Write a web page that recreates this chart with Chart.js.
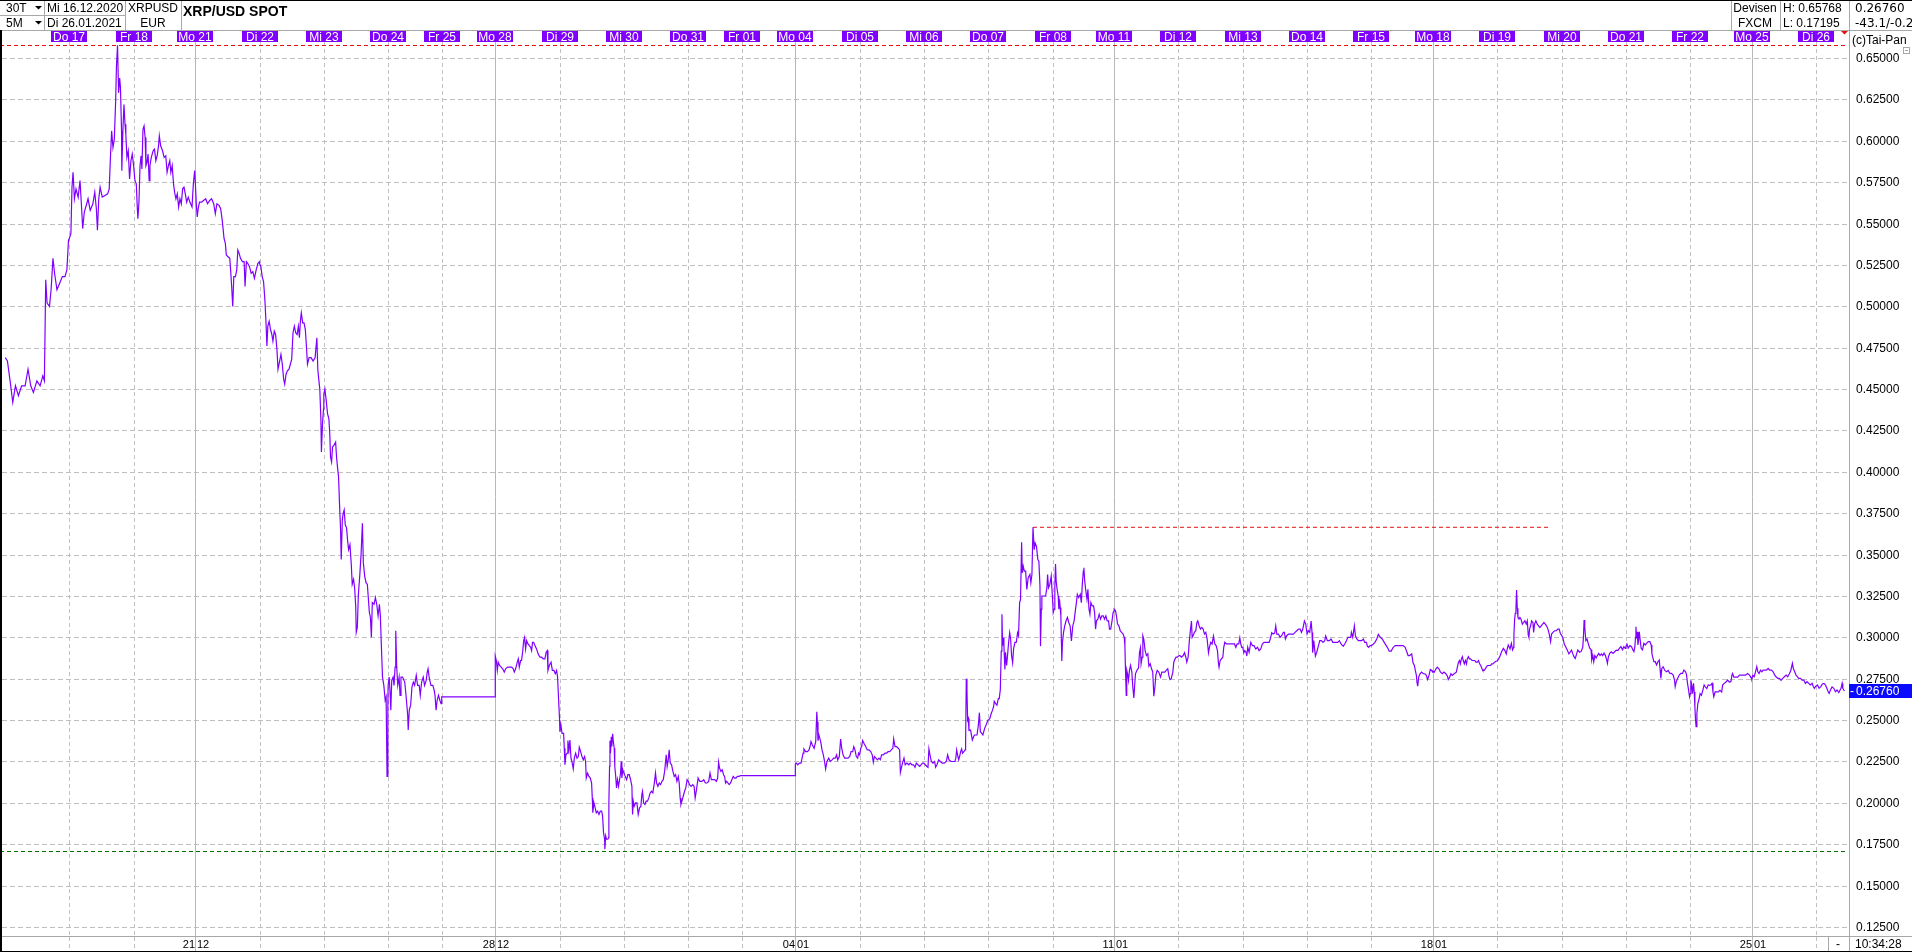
<!DOCTYPE html>
<html><head><meta charset="utf-8">
<script src="https://cdn.jsdelivr.net/npm/chart.js@4.4.1/dist/chart.umd.min.js"></script>
<style>html,body{margin:0;padding:0;background:#fff;overflow:hidden}canvas{display:block}</style>
</head><body><canvas id="c" width="1912" height="952"></canvas>
<script>
// ---- sessions (trading days) ----
const weekdays = ['Mi','Do','Fr','Mo','Di','Mi','Do','Fr','Mo','Di','Mi','Do','Fr','Mo','Di','Mi','Do','Fr','Mo','Di','Mi','Do','Fr','Mo','Di','Mi','Do','Fr','Mo','Di'];
const dates = ['16.12','17.12','18.12','21.12','22.12','23.12','24.12','25.12','28.12','29.12','30.12','31.12','01.01','04.01','05.01','06.01','07.01','08.01','11.01','12.01','13.01','14.01','15.01','18.01','19.01','20.01','21.01','22.01','25.01','26.01'];
const sessionHours = [24,24,23,24,24,24,20,20,24,24,24,20,20,24,24,24,24,23,24,24,24,24,23,24,24,24,24,23,24,12];

// ---- XRP/USD prices: [hour of session, price] ----
const p1216 = [[0.1,0.469],[0.9,0.467],[1.9,0.455],[2.9,0.442],[3.9,0.452],[5.0,0.446],[6.2,0.452],[7.5,0.452],[8.6,0.462],[9.6,0.452],[10.6,0.448],[11.9,0.455],[13.1,0.452],[14.1,0.458],[14.7,0.455],[15.2,0.516],[15.7,0.502],[16.6,0.500],[17.2,0.510],[17.9,0.529],[18.5,0.520],[19.4,0.510],[20.4,0.514],[21.4,0.518],[22.4,0.518],[23.1,0.522],[23.7,0.540]];
const p1217 = [[0,0.541],[0.6,0.544],[1.0,0.572],[1.4,0.581],[1.9,0.565],[2.5,0.571],[3.3,0.566],[4.0,0.576],[4.5,0.562],[5.0,0.547],[5.6,0.557],[6.5,0.562],[7.0,0.565],[7.8,0.558],[8.8,0.562],[9.5,0.569],[10.1,0.559],[10.5,0.546],[11.0,0.565],[11.5,0.572],[12.3,0.566],[13.3,0.567],[14.3,0.568],[14.9,0.571],[15.3,0.588],[15.8,0.606],[16.3,0.596],[16.8,0.601],[17.3,0.624],[17.6,0.645],[18.0,0.6577],[18.4,0.629],[18.8,0.638],[19.1,0.632],[19.5,0.606],[19.6,0.582],[20.0,0.606],[20.4,0.622],[20.8,0.610],[21.1,0.604],[21.5,0.590],[22.0,0.594],[22.5,0.577],[23.0,0.588],[23.5,0.592]];
const p1218 = [[0,0.585],[0.5,0.576],[1.0,0.574],[1.4,0.559],[1.6,0.553],[2.0,0.563],[2.4,0.585],[2.8,0.591],[3.1,0.583],[3.5,0.607],[3.9,0.609],[4.3,0.602],[4.6,0.585],[5.0,0.587],[5.4,0.592],[5.8,0.576],[6.1,0.585],[6.6,0.590],[7.3,0.594],[7.8,0.595],[8.3,0.588],[8.8,0.591],[9.3,0.597],[9.6,0.603],[10.1,0.597],[10.8,0.594],[11.4,0.590],[12.0,0.591],[12.5,0.581],[13.0,0.585],[13.5,0.588],[13.9,0.581],[14.4,0.585],[14.9,0.574],[15.3,0.569],[15.8,0.565],[16.3,0.568],[16.8,0.560],[17.3,0.565],[17.8,0.562],[18.3,0.571],[18.8,0.572],[19.3,0.568],[19.8,0.563],[20.4,0.566],[21.0,0.563],[21.8,0.560],[22.3,0.574],[22.8,0.582]];
const p1221 = [[0,0.576],[0.4,0.562],[0.75,0.554],[1.1,0.559],[1.6,0.563],[2.4,0.563],[3.1,0.564],[3.9,0.565],[4.6,0.562],[5.4,0.564],[6.1,0.565],[6.9,0.562],[7.5,0.556],[8.1,0.562],[8.9,0.561],[9.5,0.559],[10.0,0.553],[10.4,0.547],[10.75,0.541],[11.25,0.538],[11.6,0.531],[12.25,0.530],[12.9,0.529],[13.25,0.521],[13.6,0.512],[14.0,0.500],[14.4,0.518],[15.0,0.518],[15.5,0.522],[15.9,0.534],[16.4,0.532],[16.9,0.529],[17.6,0.527],[18.25,0.527],[18.6,0.512],[19.1,0.527],[19.6,0.526],[20.25,0.524],[20.9,0.520],[21.5,0.521],[22.1,0.517],[22.75,0.522],[23.4,0.526],[24.0,0.527]];
const p1222 = [[0,0.526],[0.5,0.524],[1.0,0.518],[1.5,0.515],[2.0,0.504],[2.4,0.491],[2.75,0.476],[3.1,0.488],[3.6,0.491],[4.1,0.486],[4.6,0.483],[5.0,0.479],[5.5,0.485],[6.0,0.483],[6.5,0.474],[6.9,0.462],[7.4,0.466],[8.0,0.471],[8.5,0.465],[9.0,0.456],[9.4,0.453],[9.9,0.459],[10.4,0.461],[11.0,0.462],[11.5,0.465],[12.0,0.468],[12.5,0.484],[13.0,0.488],[13.5,0.484],[14.0,0.483],[14.5,0.488],[14.9,0.481],[15.25,0.491],[15.6,0.496],[16.1,0.490],[16.6,0.490],[17.1,0.486],[17.5,0.476],[17.9,0.465],[18.5,0.469],[19.25,0.469],[20.0,0.467],[20.75,0.469],[21.4,0.481],[21.75,0.462],[22.1,0.456],[22.5,0.450],[22.9,0.432],[23.1,0.412],[23.5,0.429],[23.9,0.438]];
const p1223 = [[0,0.447],[0.4,0.450],[0.9,0.443],[1.4,0.435],[1.9,0.432],[2.25,0.422],[2.5,0.409],[2.9,0.406],[3.25,0.415],[3.75,0.416],[4.4,0.418],[4.75,0.409],[5.1,0.403],[5.5,0.397],[5.9,0.379],[6.25,0.365],[6.5,0.347],[6.9,0.371],[7.25,0.375],[7.6,0.377],[8.0,0.368],[8.5,0.366],[8.9,0.358],[9.25,0.353],[9.75,0.356],[10.25,0.344],[10.6,0.332],[11.1,0.335],[11.5,0.330],[11.9,0.319],[12.1,0.303],[12.5,0.306],[12.9,0.326],[13.4,0.337],[13.9,0.350],[14.4,0.369],[14.75,0.345],[15.25,0.337],[15.75,0.333],[16.25,0.332],[16.6,0.324],[17.0,0.315],[17.4,0.312],[17.75,0.300],[18.1,0.321],[18.75,0.320],[19.25,0.324],[19.75,0.320],[20.25,0.313],[20.75,0.320],[21.1,0.313],[21.5,0.294],[21.9,0.276],[22.4,0.271],[22.9,0.262],[23.25,0.264],[23.6,0.216],[23.9,0.258]];
const p1224 = [[0,0.271],[0.4,0.276],[0.75,0.266],[1.0,0.256],[1.35,0.274],[1.85,0.276],[2.2,0.271],[2.6,0.282],[2.85,0.304],[3.2,0.282],[3.6,0.271],[4.1,0.276],[4.45,0.265],[4.8,0.276],[5.4,0.276],[6.2,0.273],[6.5,0.268],[7.0,0.259],[7.3,0.253],[7.5,0.244],[7.9,0.256],[8.4,0.259],[8.9,0.270],[9.4,0.273],[9.9,0.271],[10.5,0.277],[11.0,0.271],[11.6,0.271],[12.0,0.265],[12.5,0.273],[13.1,0.276],[13.6,0.271],[14.2,0.274],[14.6,0.279],[14.9,0.281],[15.4,0.275],[16.0,0.271],[16.7,0.271],[17.2,0.268],[17.5,0.265],[17.9,0.256],[18.3,0.262],[18.8,0.265],[19.3,0.262],[19.75,0.260]];
const p1225 = [[0,0.264],[20,0.264]];
const p1228 = [[0,0.2886],[0.4,0.286],[0.75,0.280],[1.1,0.285],[1.6,0.283],[2.2,0.282],[2.75,0.281],[3.35,0.279],[3.85,0.281],[4.6,0.282],[5.35,0.282],[6.1,0.282],[6.7,0.281],[7.1,0.279],[7.6,0.281],[8.2,0.285],[8.6,0.287],[8.95,0.282],[9.45,0.286],[9.8,0.286],[10.2,0.291],[10.6,0.298],[10.95,0.300],[11.3,0.293],[11.7,0.298],[12.2,0.296],[12.7,0.295],[13.2,0.294],[13.55,0.292],[13.9,0.297],[14.3,0.297],[14.8,0.295],[15.4,0.293],[16.0,0.290],[16.7,0.288],[17.3,0.288],[17.9,0.287],[18.5,0.287],[19.0,0.291],[19.4,0.292],[19.65,0.280],[20.15,0.283],[20.8,0.285],[21.3,0.280],[21.9,0.280],[22.4,0.278],[22.9,0.280],[23.25,0.276],[23.5,0.267]];
const p1229 = [[0,0.250],[0.1,0.243],[0.5,0.247],[0.9,0.242],[1.5,0.242],[1.75,0.233],[2.0,0.223],[2.35,0.229],[2.85,0.230],[3.1,0.2377],[3.5,0.232],[3.85,0.238],[4.25,0.227],[4.6,0.225],[5.1,0.2205],[5.5,0.227],[6.0,0.230],[6.5,0.227],[7.0,0.228],[7.35,0.2336],[7.85,0.231],[8.35,0.228],[8.85,0.226],[9.35,0.228],[9.7,0.225],[9.95,0.215],[10.45,0.218],[10.95,0.216],[11.45,0.215],[11.95,0.212],[12.2,0.203],[12.4,0.194],[12.8,0.200],[13.3,0.197],[13.7,0.194],[14.2,0.195],[14.7,0.193],[15.2,0.195],[15.7,0.195],[16.05,0.192],[16.4,0.182],[16.8,0.178],[16.9,0.172],[17.2,0.180],[17.5,0.178],[18.0,0.178],[18.3,0.179],[18.4,0.200],[18.65,0.222],[18.8,0.2376],[19.0,0.230],[19.3,0.240],[19.5,0.234],[19.8,0.2417],[20.0,0.238],[20.4,0.233],[20.6,0.222],[20.9,0.217],[21.25,0.209],[21.6,0.214],[22.0,0.210],[22.4,0.214],[22.75,0.218],[23.0,0.225],[23.25,0.215],[23.6,0.220]];
const p1230 = [[0,0.218],[0.5,0.216],[1.0,0.214],[1.5,0.217],[2.0,0.217],[2.5,0.214],[3.0,0.210],[3.1,0.201],[3.25,0.193],[3.5,0.201],[3.85,0.198],[4.35,0.200],[4.85,0.200],[5.35,0.193],[5.85,0.197],[6.35,0.198],[6.7,0.205],[6.95,0.207],[7.35,0.200],[7.85,0.199],[8.3,0.201],[8.8,0.201],[9.3,0.203],[9.8,0.206],[10.3,0.207],[10.8,0.206],[11.45,0.213],[11.8,0.218],[12.2,0.212],[12.7,0.210],[13.2,0.212],[13.7,0.211],[14.2,0.213],[14.7,0.214],[15.2,0.219],[15.55,0.225],[15.8,0.229],[16.15,0.222],[16.55,0.226],[16.9,0.232],[17.3,0.224],[17.8,0.223],[18.3,0.219],[18.8,0.216],[19.3,0.217],[19.8,0.213],[20.3,0.216],[20.65,0.212],[21.0,0.203],[21.3,0.199],[21.65,0.201],[22.15,0.204],[22.65,0.207],[23.1,0.209],[23.6,0.214]];
const p1231 = [[0,0.213],[0.5,0.211],[1.1,0.210],[1.7,0.211],[2.2,0.210],[2.6,0.203],[3.1,0.208],[3.7,0.215],[4.3,0.213],[5.1,0.213],[5.8,0.214],[6.4,0.212],[7.0,0.212],[7.65,0.213],[8.15,0.218],[8.65,0.214],[9.25,0.214],[9.9,0.214],[10.5,0.213],[11.0,0.215],[11.35,0.2245],[11.7,0.221],[12.2,0.219],[12.7,0.220],[13.2,0.217],[13.6,0.216],[13.95,0.212],[14.3,0.213],[14.8,0.212],[15.3,0.211],[15.8,0.212],[16.3,0.214],[16.8,0.216],[17.3,0.215],[17.8,0.215],[18.4,0.216],[19.0,0.216],[19.6,0.2165]];
const p0101 = [[0,0.2165],[20,0.2165]];
const p0104 = [[0,0.2235],[0.4,0.224],[0.9,0.223],[1.5,0.224],[2.1,0.224],[2.5,0.227],[2.9,0.230],[3.2,0.2326],[3.85,0.231],[4.5,0.231],[5.1,0.232],[5.6,0.235],[5.85,0.237],[6.35,0.235],[7.0,0.233],[7.6,0.237],[8.0,0.255],[8.2,0.249],[8.45,0.2376],[8.8,0.241],[9.45,0.237],[9.95,0.232],[10.45,0.229],[10.95,0.2245],[11.3,0.2205],[11.8,0.225],[12.45,0.227],[13.05,0.225],[13.7,0.226],[14.3,0.227],[14.9,0.227],[15.4,0.229],[15.8,0.226],[16.4,0.228],[16.9,0.2386],[17.3,0.233],[17.8,0.229],[18.4,0.227],[19.0,0.227],[19.65,0.227],[20.3,0.228],[20.8,0.231],[21.4,0.231],[21.8,0.234],[22.25,0.232],[22.75,0.228],[23.25,0.227],[23.6,0.230]];
const p0105 = [[0,0.229],[0.4,0.233],[0.75,0.234],[1.1,0.2377],[1.6,0.236],[2.25,0.234],[2.85,0.232],[3.5,0.232],[4.1,0.231],[4.7,0.229],[5.1,0.2245],[5.5,0.228],[6.1,0.227],[6.6,0.226],[7.2,0.227],[7.7,0.226],[8.2,0.229],[8.8,0.229],[9.45,0.230],[10.1,0.230],[10.6,0.231],[11.2,0.231],[11.8,0.232],[12.4,0.233],[12.7,0.2386],[13.2,0.234],[13.8,0.234],[14.4,0.233],[14.9,0.232],[15.2,0.2184],[15.55,0.221],[16.0,0.224],[16.55,0.227],[17.0,0.223],[17.65,0.224],[18.3,0.223],[18.9,0.224],[19.5,0.223],[20.1,0.223],[20.65,0.2215],[21.15,0.224],[21.75,0.223],[22.4,0.222],[22.9,0.223],[23.5,0.224]];
const p0106 = [[0,0.224],[0.5,0.223],[1.1,0.222],[1.5,0.2215],[1.85,0.2326],[2.25,0.229],[2.75,0.225],[3.35,0.224],[4.0,0.225],[4.35,0.2215],[4.85,0.223],[5.5,0.226],[6.1,0.225],[6.85,0.224],[7.6,0.224],[8.35,0.225],[8.85,0.229],[9.35,0.226],[10.1,0.225],[10.8,0.225],[11.55,0.225],[11.9,0.227],[12.2,0.232],[12.55,0.229],[12.95,0.226],[13.3,0.228],[13.7,0.231],[14.05,0.2326],[14.4,0.230],[14.9,0.231],[15.4,0.232],[15.55,0.2377],[15.8,0.275],[16.05,0.268],[16.3,0.250],[16.55,0.251],[16.8,0.2437],[17.4,0.244],[18.05,0.238],[18.8,0.241],[19.8,0.241],[20.3,0.247],[20.7,0.2545],[21.05,0.243],[21.55,0.242],[22.0,0.241],[22.65,0.245],[23.3,0.2475],[23.9,0.250]];
const p0107 = [[0,0.250],[0.6,0.251],[1.1,0.254],[1.6,0.256],[2.0,0.2583],[2.25,0.2614],[2.75,0.260],[3.25,0.259],[3.75,0.263],[4.1,0.263],[4.5,0.2684],[4.85,0.2917],[5.1,0.314],[5.35,0.295],[5.6,0.2997],[5.85,0.295],[6.2,0.2806],[6.45,0.291],[6.85,0.283],[7.2,0.289],[7.6,0.297],[8.0,0.3028],[8.35,0.299],[8.7,0.289],[9.1,0.2846],[9.45,0.293],[9.95,0.297],[10.45,0.297],[10.95,0.3028],[11.3,0.301],[11.7,0.321],[12.05,0.323],[12.45,0.3574],[12.7,0.339],[13.05,0.343],[13.45,0.340],[13.95,0.340],[14.4,0.329],[14.9,0.336],[15.55,0.338],[15.9,0.333],[16.3,0.338],[16.7,0.3665],[16.9,0.3605],[17.15,0.353],[17.5,0.357],[18.0,0.355],[18.5,0.347],[18.9,0.346],[19.3,0.331],[19.5,0.2947],[19.8,0.317],[20.0,0.325],[20.65,0.325],[21.4,0.325],[21.9,0.330],[22.15,0.338],[22.5,0.330],[23.0,0.332],[23.5,0.337]];
const p0108 = [[0,0.323],[0.25,0.315],[0.6,0.317],[0.85,0.330],[1.1,0.3443],[1.35,0.334],[1.7,0.329],[2.1,0.325],[2.35,0.317],[2.6,0.323],[2.85,0.318],[3.1,0.313],[3.45,0.2857],[3.7,0.297],[4.1,0.303],[4.55,0.307],[5.05,0.310],[5.55,0.312],[6.05,0.309],[6.55,0.307],[7.05,0.2978],[7.55,0.307],[8.05,0.310],[8.5,0.316],[8.9,0.321],[9.25,0.326],[9.75,0.324],[10.35,0.326],[10.75,0.321],[11.1,0.332],[11.5,0.3402],[11.7,0.342],[11.95,0.335],[12.35,0.329],[12.85,0.323],[13.2,0.329],[13.6,0.317],[13.95,0.314],[14.3,0.321],[14.8,0.319],[15.3,0.319],[15.7,0.315],[16.05,0.305],[16.4,0.310],[16.9,0.311],[17.4,0.314],[17.9,0.311],[18.4,0.313],[18.9,0.313],[19.4,0.311],[19.9,0.313],[20.4,0.310],[20.9,0.310],[21.25,0.305],[21.7,0.305],[22.2,0.310],[22.6,0.315],[22.95,0.316]];
const p0111 = [[0,0.317],[0.5,0.316],[0.85,0.313],[1.25,0.308],[1.75,0.307],[2.25,0.304],[2.75,0.303],[3.35,0.302],[3.75,0.300],[4.0,0.295],[4.2,0.2816],[4.5,0.265],[4.7,0.280],[5.1,0.277],[5.35,0.274],[5.7,0.280],[6.1,0.283],[6.6,0.279],[6.95,0.270],[7.35,0.2634],[7.6,0.270],[7.95,0.278],[8.45,0.280],[9.1,0.2816],[9.45,0.291],[9.8,0.2937],[10.05,0.284],[10.45,0.288],[10.7,0.301],[11.05,0.299],[11.55,0.292],[12.05,0.289],[12.55,0.290],[12.95,0.2826],[13.45,0.284],[13.95,0.281],[14.4,0.279],[14.8,0.2644],[15.2,0.270],[15.55,0.277],[16.05,0.280],[16.65,0.279],[17.3,0.276],[17.8,0.279],[18.3,0.279],[18.9,0.279],[19.4,0.280],[20.0,0.281],[20.4,0.277],[20.8,0.2745],[21.3,0.275],[21.9,0.279],[22.25,0.285],[22.65,0.2867],[23.1,0.288],[23.6,0.288]];
const p0112 = [[0,0.2887],[0.5,0.289],[1.1,0.288],[1.75,0.289],[2.25,0.2907],[2.75,0.288],[3.1,0.285],[3.6,0.288],[4.1,0.2988],[4.5,0.3048],[4.85,0.3099],[5.1,0.300],[5.45,0.301],[5.95,0.303],[6.45,0.304],[6.85,0.3089],[7.2,0.310],[7.7,0.307],[8.2,0.305],[8.7,0.306],[9.2,0.305],[9.7,0.302],[10.2,0.303],[10.7,0.299],[11.2,0.2907],[11.55,0.294],[12.05,0.297],[12.55,0.296],[13.05,0.3008],[13.55,0.296],[14.05,0.295],[14.55,0.292],[14.9,0.2846],[15.15,0.282],[15.55,0.286],[16.05,0.287],[16.55,0.288],[16.9,0.294],[17.3,0.297],[17.9,0.296],[18.9,0.296],[19.9,0.296],[20.9,0.296],[21.4,0.294],[21.9,0.296],[22.5,0.296],[22.9,0.2998],[23.25,0.296],[23.6,0.294]];
const p0113 = [[0,0.294],[0.4,0.2907],[0.75,0.292],[1.25,0.291],[1.5,0.2887],[1.85,0.294],[2.35,0.291],[3.0,0.297],[3.6,0.295],[4.2,0.295],[4.85,0.293],[5.5,0.294],[6.1,0.292],[6.7,0.293],[7.3,0.296],[7.95,0.297],[8.6,0.297],[9.2,0.297],[9.85,0.297],[10.45,0.300],[10.8,0.3028],[11.3,0.302],[11.9,0.3025],[12.3,0.3069],[12.7,0.302],[13.3,0.302],[13.9,0.300],[14.5,0.301],[15.15,0.303],[15.55,0.303],[15.9,0.299],[16.4,0.301],[17.05,0.302],[17.65,0.302],[18.3,0.302],[18.9,0.302],[19.5,0.303],[20.15,0.304],[20.8,0.305],[21.4,0.305],[21.9,0.303],[22.4,0.305],[23.0,0.3099],[23.5,0.308]];
const p0114 = [[0,0.302],[0.5,0.304],[1.0,0.303],[1.5,0.3099],[1.85,0.303],[2.1,0.2907],[2.5,0.298],[3.1,0.2887],[3.6,0.291],[4.2,0.2947],[4.75,0.298],[5.35,0.298],[5.95,0.297],[6.6,0.298],[6.95,0.3008],[7.6,0.298],[8.35,0.298],[8.95,0.299],[9.6,0.297],[10.2,0.297],[10.85,0.297],[11.45,0.297],[12.05,0.298],[12.7,0.296],[13.2,0.295],[13.55,0.2947],[14.05,0.296],[14.7,0.298],[15.2,0.300],[15.8,0.300],[16.3,0.300],[16.55,0.303],[17.05,0.300],[17.65,0.3069],[18.05,0.301],[18.55,0.299],[19.15,0.298],[19.8,0.298],[20.4,0.298],[21.0,0.299],[21.5,0.297],[22.15,0.297],[22.5,0.2947],[23.0,0.294],[23.5,0.295]];
const p0115 = [[0,0.295],[0.75,0.296],[1.35,0.297],[2.0,0.299],[2.6,0.3018],[3.35,0.300],[4.05,0.299],[4.8,0.297],[5.55,0.295],[6.3,0.293],[6.65,0.2917],[7.4,0.2917],[8.15,0.294],[8.9,0.295],[9.6,0.295],[10.35,0.295],[11.1,0.295],[11.85,0.295],[12.6,0.294],[13.35,0.2907],[13.7,0.289],[14.3,0.289],[15.05,0.290],[15.55,0.2846],[16.05,0.283],[16.4,0.280],[16.8,0.277],[17.05,0.2725],[17.3,0.2705],[17.65,0.276],[18.15,0.278],[18.75,0.279],[19.35,0.278],[19.95,0.278],[20.5,0.277],[21.0,0.2745],[21.5,0.277],[22.0,0.2806],[22.5,0.280],[22.85,0.279]];
const p0118 = [[0,0.2796],[0.5,0.279],[1.1,0.281],[1.6,0.282],[2.2,0.281],[2.8,0.279],[3.5,0.278],[4.1,0.279],[4.8,0.278],[5.4,0.2765],[5.7,0.2745],[6.1,0.2755],[6.7,0.278],[7.2,0.277],[7.9,0.278],[8.7,0.279],[9.1,0.282],[9.5,0.285],[9.9,0.286],[10.2,0.284],[10.6,0.287],[10.95,0.2883],[11.3,0.286],[11.7,0.284],[12.1,0.286],[12.5,0.284],[12.8,0.287],[13.2,0.2883],[13.6,0.287],[14.0,0.287],[14.6,0.286],[15.0,0.286],[15.6,0.286],[16.0,0.285],[16.6,0.285],[17.0,0.286],[17.4,0.284],[17.8,0.283],[18.3,0.281],[18.6,0.280],[19.1,0.280],[19.5,0.281],[19.9,0.282],[20.3,0.283],[20.9,0.283],[21.5,0.283],[21.9,0.284],[22.4,0.284],[23.0,0.285],[23.6,0.2857]];
const p0119 = [[0,0.2857],[0.5,0.287],[1.1,0.289],[1.6,0.2913],[2.25,0.2933],[2.75,0.2923],[3.35,0.290],[3.75,0.2933],[4.1,0.2954],[4.75,0.293],[5.25,0.2964],[5.7,0.2924],[6.1,0.294],[6.2,0.3014],[6.45,0.3105],[6.7,0.3145],[6.95,0.317],[7.2,0.3286],[7.45,0.3176],[7.7,0.312],[8.1,0.311],[8.45,0.312],[8.85,0.311],[9.35,0.308],[9.85,0.309],[10.3,0.310],[10.8,0.308],[11.2,0.310],[11.55,0.3014],[11.8,0.300],[12.05,0.305],[12.45,0.307],[12.8,0.310],[13.3,0.309],[13.55,0.303],[13.9,0.308],[14.4,0.310],[14.9,0.308],[15.4,0.307],[15.9,0.306],[16.4,0.307],[16.9,0.308],[17.4,0.309],[17.9,0.308],[18.4,0.307],[18.9,0.305],[19.4,0.302],[19.9,0.2974],[20.25,0.302],[20.75,0.303],[21.4,0.304],[22.0,0.304],[22.6,0.305],[23.1,0.305],[23.6,0.302]];
const p0120 = [[0,0.3014],[0.5,0.2995],[1.0,0.296],[1.6,0.294],[2.2,0.292],[2.7,0.290],[3.2,0.291],[3.7,0.2923],[4.2,0.290],[4.6,0.2883],[5.1,0.2873],[5.6,0.290],[6.05,0.2923],[6.7,0.291],[7.3,0.2915],[7.9,0.294],[8.15,0.300],[8.4,0.3105],[8.65,0.306],[9.05,0.298],[9.5,0.299],[10.0,0.296],[10.5,0.2935],[11.0,0.2925],[11.25,0.2863],[11.65,0.289],[12.0,0.2853],[12.4,0.289],[12.9,0.2875],[13.35,0.289],[13.85,0.2903],[14.35,0.289],[14.85,0.290],[15.35,0.289],[15.85,0.2905],[16.35,0.289],[16.85,0.2863],[17.1,0.2843],[17.45,0.288],[17.95,0.2903],[18.55,0.2913],[19.2,0.2903],[19.8,0.2913],[20.4,0.2923],[21.0,0.292],[21.55,0.2933],[22.15,0.2944],[22.75,0.2925],[23.25,0.2944],[23.75,0.2934]];
const p0121 = [[0,0.2944],[0.4,0.296],[0.85,0.2935],[1.5,0.295],[2.1,0.2944],[2.6,0.2924],[3.0,0.2914],[3.35,0.2944],[3.6,0.300],[3.75,0.3064],[4.0,0.2994],[4.2,0.3034],[4.5,0.2954],[4.7,0.298],[5.0,0.3034],[5.35,0.298],[5.7,0.2934],[6.2,0.2924],[6.7,0.2964],[7.2,0.2954],[7.7,0.2964],[8.35,0.2974],[8.95,0.2974],[9.45,0.2954],[9.7,0.2904],[9.95,0.2883],[10.45,0.2853],[10.95,0.2853],[11.45,0.2833],[11.95,0.2853],[12.45,0.2863],[12.8,0.2802],[13.05,0.2752],[13.4,0.2812],[13.9,0.2822],[14.55,0.280],[15.2,0.2792],[15.8,0.280],[16.4,0.2782],[17.0,0.2782],[17.65,0.2772],[18.15,0.2742],[18.4,0.2702],[18.8,0.2732],[19.3,0.2752],[19.9,0.2772],[20.5,0.2782],[21.15,0.2782],[21.65,0.2802],[22.3,0.2792],[22.65,0.2772],[23.0,0.2722],[23.4,0.2681],[23.75,0.2641]];
const p0122 = [[0,0.266],[0.25,0.274],[0.6,0.271],[0.85,0.266],[1.25,0.2722],[1.5,0.267],[1.75,0.258],[2.0,0.250],[2.2,0.246],[2.5,0.254],[2.85,0.260],[3.2,0.262],[3.7,0.266],[4.2,0.265],[4.7,0.268],[5.2,0.2712],[5.7,0.270],[6.2,0.269],[6.7,0.2712],[7.15,0.271],[7.65,0.2712],[8.15,0.2722],[8.5,0.267],[8.8,0.2641],[9.3,0.267],[9.9,0.267],[10.5,0.267],[11.1,0.268],[11.75,0.267],[12.1,0.2712],[12.7,0.2722],[13.35,0.273],[13.95,0.2742],[14.6,0.273],[15.2,0.2732],[15.55,0.277],[15.8,0.2782],[16.3,0.276],[16.95,0.276],[17.7,0.276],[18.4,0.2772],[19.15,0.2772],[19.9,0.2772],[20.65,0.2772],[21.4,0.2782],[22.15,0.2772],[22.85,0.2752]];
const p0125 = [[0,0.275],[0.35,0.277],[0.85,0.2762],[1.35,0.279],[1.85,0.2823],[2.25,0.2792],[2.7,0.2782],[3.25,0.2802],[3.75,0.2792],[4.2,0.2802],[4.85,0.2802],[5.45,0.2802],[6.1,0.2812],[6.7,0.2802],[7.35,0.2802],[7.95,0.2792],[8.55,0.2772],[9.05,0.2762],[9.7,0.2752],[10.3,0.2752],[10.9,0.274],[11.55,0.2752],[12.15,0.2762],[12.8,0.2772],[13.4,0.2762],[14.0,0.278],[14.55,0.280],[15.15,0.2843],[15.5,0.2812],[16.0,0.2792],[16.5,0.2772],[17.0,0.2762],[17.5,0.2752],[18.15,0.2752],[18.75,0.2742],[19.4,0.2742],[20.0,0.2722],[20.6,0.2732],[21.25,0.2722],[21.85,0.2712],[22.5,0.2722],[23.0,0.2702],[23.35,0.2692],[23.75,0.2702]];
const p0126 = [[0,0.2706],[0.5,0.2712],[1.1,0.2692],[1.75,0.2702],[2.35,0.2718],[2.95,0.2722],[3.5,0.2712],[4.0,0.2692],[4.5,0.2671],[4.85,0.2661],[5.35,0.2682],[5.95,0.2700],[6.6,0.2692],[7.2,0.2672],[7.8,0.2682],[8.45,0.2666],[8.95,0.2682],[9.3,0.2692],[9.7,0.2722],[9.95,0.2692],[10.57,0.2676]];

const sessionPrices = [p1216,p1217,p1218,p1221,p1222,p1223,p1224,p1225,p1228,p1229,p1230,p1231,p0101,p0104,p0105,p0106,p0107,p0108,p0111,p0112,p0113,p0114,p0115,p0118,p0119,p0120,p0121,p0122,p0125,p0126];

// ---- axis / reference values ----
const yTicks = [0.125,0.15,0.175,0.2,0.225,0.25,0.275,0.3,0.325,0.35,0.375,0.4,0.425,0.45,0.475,0.5,0.525,0.55,0.575,0.6,0.625,0.65];
const highValue = 0.65768;
const lowValue = 0.17195;
const lowLineValue = 0.1707;
const lastValue = 0.2676;
const lastTime = '10:34:28';
const resistanceFrom = [16, 16.7];   // [session, hour]
const resistanceTo = [24, 20.0];
const resistanceValue = 0.3665;

// ---- build ----
const sessionStart = [];
let acc = 0;
for (const h of sessionHours) { sessionStart.push(acc); acc += h; }
const totalHours = acc;
const pricePoints = [];
sessionPrices.forEach((arr, i) => arr.forEach(([h, v]) => pricePoints.push({x: sessionStart[i] + h, y: v})));
const resistancePoints = [
  {x: sessionStart[resistanceFrom[0]] + resistanceFrom[1], y: resistanceValue},
  {x: sessionStart[resistanceTo[0]] + resistanceTo[1], y: resistanceValue}
];

const F = '"Liberation Sans", Arial, sans-serif';

const decor = {
  id: 'decor',
  beforeDatasetsDraw(chart) {
    const {ctx, chartArea: ca, scales: {x: xs, y: ys}} = chart;
    ctx.save();
    ctx.lineWidth = 1;
    // horizontal grid
    ctx.strokeStyle = '#c0c0c0';
    ctx.setLineDash([5, 3]);
    for (const t of yTicks) {
      const y = Math.round(ys.getPixelForValue(t)) + 0.5;
      ctx.beginPath(); ctx.moveTo(ca.left, y); ctx.lineTo(ca.right, y); ctx.stroke();
    }
    // vertical day lines
    for (let i = 1; i < sessionStart.length; i++) {
      const x = Math.round(xs.getPixelForValue(sessionStart[i])) + 0.5;
      if (weekdays[i] === 'Mo') { ctx.setLineDash([]); ctx.strokeStyle = '#b8b8b8'; }
      else { ctx.setLineDash([4, 3]); ctx.strokeStyle = '#c0c0c0'; }
      ctx.beginPath(); ctx.moveTo(x, ca.top); ctx.lineTo(x, 951); ctx.stroke();
    }
    // high / low lines
    ctx.setLineDash([4, 3]);
    ctx.strokeStyle = '#e41010';
    let y = Math.round(ys.getPixelForValue(highValue)) + 0.5;
    ctx.beginPath(); ctx.moveTo(0, y); ctx.lineTo(ca.right, y); ctx.stroke();
    ctx.strokeStyle = '#007000';
    y = Math.round(ys.getPixelForValue(lowLineValue)) + 0.5;
    ctx.beginPath(); ctx.moveTo(0, y); ctx.lineTo(ca.right, y); ctx.stroke();
    ctx.restore();
  },
  afterDatasetsDraw(chart) {
    const {ctx, chartArea: ca, scales: {x: xs, y: ys}} = chart;
    const W = chart.width;
    ctx.save();
    ctx.setLineDash([]);
    ctx.lineWidth = 1;
    // header background
    ctx.fillStyle = '#fff';
    ctx.fillRect(0, 0, W, 30);
    ctx.fillRect(ca.right, 30, W - ca.right, 922);
    ctx.fillRect(0, 937, W, 15);
    // header separators
    ctx.strokeStyle = '#a8a8a8';
    const vline = (x, y0, y1) => { ctx.beginPath(); ctx.moveTo(x + 0.5, y0); ctx.lineTo(x + 0.5, y1); ctx.stroke(); };
    const hline = (y, x0, x1) => { ctx.beginPath(); ctx.moveTo(x0, y + 0.5); ctx.lineTo(x1, y + 0.5); ctx.stroke(); };
    vline(44, 0, 30); vline(125, 0, 30); vline(181, 0, 30);
    vline(1731, 0, 30); vline(1780, 0, 30); vline(1849, 0, 30);
    hline(15, 0, 125);
    hline(30, 0, W);
    // right axis line
    vline(1849, 30, 952);
    // bottom band
    hline(936, 0, W);
    vline(1828, 936, 952);
    // vertical day lines through bottom band
    for (let i = 1; i < sessionStart.length; i++) {
      const x = Math.round(xs.getPixelForValue(sessionStart[i]));
      if (weekdays[i] === 'Mo') { ctx.setLineDash([]); ctx.strokeStyle = '#b8b8b8'; }
      else { ctx.setLineDash([4, 3]); ctx.strokeStyle = '#c0c0c0'; }
      if (x < 1849) vline(x, 937, 952);
    }
    ctx.setLineDash([]);
    ctx.strokeStyle = '#a8a8a8';
    vline(1849, 30, 952);

    // header texts
    ctx.fillStyle = '#000';
    ctx.textBaseline = 'alphabetic';
    ctx.font = '12px ' + F;
    ctx.textAlign = 'left';
    ctx.fillText('30T', 6, 12);
    ctx.fillText('5M', 6, 27);
    const tri = (x, y) => { ctx.beginPath(); ctx.moveTo(x, y); ctx.lineTo(x + 7, y); ctx.lineTo(x + 3.5, y + 3.5); ctx.closePath(); ctx.fill(); };
    tri(35, 6); tri(35, 21);
    ctx.fillText('Mi ' + dates[0] + '.2020', 47, 12);
    ctx.fillText('Di ' + dates[dates.length - 1] + '.2021', 47, 27);
    ctx.textAlign = 'center';
    ctx.fillText('XRPUSD', 153, 12);
    ctx.fillText('EUR', 153, 27);
    ctx.fillText('Devisen', 1755, 12);
    ctx.fillText('FXCM', 1755, 27);
    ctx.textAlign = 'left';
    ctx.fillText('H: ' + highValue.toFixed(5), 1783, 12);
    ctx.fillText('L: ' + lowValue.toFixed(5), 1783, 27);
    ctx.font = 'bold 14px ' + F;
    ctx.fillText('XRP/USD SPOT', 183, 16);
    ctx.font = '12px "DejaVu Sans", sans-serif';
    ctx.fillText(lastValue.toFixed(5), 1855, 12);
    ctx.fillText('-43.1/-0.20', 1855, 27);

    // day label strip
    ctx.font = '12px ' + F;
    ctx.textAlign = 'center';
    for (let i = 1; i < sessionStart.length; i++) {
      const x = Math.round(xs.getPixelForValue(sessionStart[i]));
      ctx.fillStyle = '#8000ff';
      ctx.fillRect(x - 18, 31, 36, 11);
      ctx.fillStyle = '#fff';
      ctx.fillText(weekdays[i] + ' ' + dates[i].slice(0, 2), x, 41);
    }
    // red marker triangle
    ctx.fillStyle = '#e41010';
    ctx.beginPath(); ctx.moveTo(1841, 31); ctx.lineTo(1848, 31); ctx.lineTo(1844.5, 34.5); ctx.closePath(); ctx.fill();

    // right axis texts
    ctx.fillStyle = '#000';
    ctx.textAlign = 'left';
    ctx.font = '12px ' + F;
    ctx.fillText('(c)Tai-Pan', 1852, 44);
    ctx.strokeStyle = '#a8a8a8';
    ctx.strokeRect(1903.5, 47.5, 6, 6);
    ctx.beginPath(); ctx.moveTo(1905, 50.5); ctx.lineTo(1908, 50.5); ctx.stroke();
    ctx.textBaseline = 'middle';
    for (const t of yTicks) {
      const y = Math.round(ys.getPixelForValue(t));
      ctx.fillText(t.toFixed(5), 1856, y + 1);
    }
    // last price tag
    const yl = Math.round(ys.getPixelForValue(lastValue));
    ctx.fillStyle = '#0a0aff';
    ctx.fillRect(1849, yl - 7, W - 1849, 14);
    ctx.fillStyle = '#fff';
    ctx.fillText('-', 1850, yl + 1);
    ctx.fillText(lastValue.toFixed(5), 1856, yl + 1);

    // bottom band labels
    ctx.fillStyle = '#000';
    ctx.textBaseline = 'alphabetic';
    ctx.font = '11px ' + F;
    for (let i = 1; i < sessionStart.length; i++) {
      if (weekdays[i] !== 'Mo') continue;
      const x = Math.round(xs.getPixelForValue(sessionStart[i]));
      ctx.textAlign = 'right'; ctx.fillText(dates[i].slice(0, 2), x, 948);
      ctx.textAlign = 'left'; ctx.fillText(dates[i].slice(3, 5), x + 2, 948);
    }
    ctx.textAlign = 'left';
    ctx.font = '12px ' + F;
    ctx.fillText('-', 1836, 948);
    ctx.fillText(lastTime, 1855, 948);

    // outer borders
    ctx.fillStyle = '#000';
    ctx.fillRect(0, 0, W, 1);
    ctx.fillRect(0, 30, 2, 922);
    ctx.fillRect(0, 951, W, 1);
    ctx.restore();
  }
};

new Chart(document.getElementById('c').getContext('2d'), {
  type: 'line',
  data: {
    datasets: [
      {data: pricePoints, borderColor: '#8000ff', borderWidth: 1.2, pointRadius: 0, tension: 0, fill: false, order: 1},
      {data: resistancePoints, borderColor: '#e41010', borderWidth: 1, borderDash: [4, 3], pointRadius: 0, fill: false, order: 2}
    ]
  },
  options: {
    responsive: false,
    animation: false,
    devicePixelRatio: 1,
    layout: {padding: {left: 2, top: 42, right: 64, bottom: 16}},
    plugins: {legend: {display: false}, tooltip: {enabled: false}},
    scales: {
      x: {type: 'linear', display: false, min: -1.12, max: totalHours - 0.1},
      y: {type: 'linear', display: false, min: 0.11955, max: 0.65973}
    }
  },
  plugins: [decor]
});
</script>
</body></html>
